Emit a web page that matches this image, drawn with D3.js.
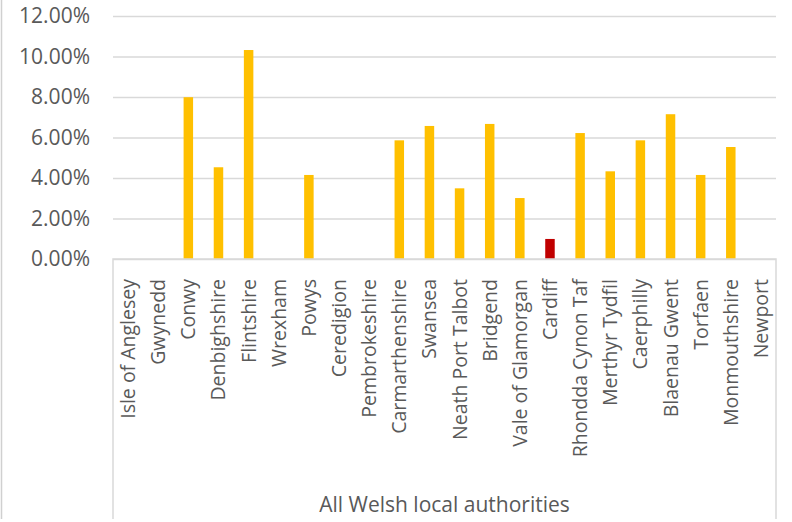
<!DOCTYPE html>
<html>
<head>
<meta charset="utf-8">
<script src="https://cdn.jsdelivr.net/npm/d3@7"></script>
<style>
  body { margin: 0; background: #fff; }
  svg { display: block; }
</style>
</head>
<body>
<div id="chart"></div>
<script>
var authorities = ["Isle of Anglesey", "Gwynedd", "Conwy", "Denbighshire", "Flintshire", "Wrexham",
    "Powys", "Ceredigion", "Pembrokeshire", "Carmarthenshire", "Swansea", "Neath Port Talbot",
    "Bridgend", "Vale of Glamorgan", "Cardiff", "Rhondda Cynon Taf", "Merthyr Tydfil",
    "Caerphilly", "Blaenau Gwent", "Torfaen", "Monmouthshire", "Newport"];
var shares = [0, 0, 0.0799, 0.0453, 0.1032, 0, 0.0415, 0, 0, 0.0586, 0.0657, 0.0349,
    0.0667, 0.0301, 0.0099, 0.0622, 0.0433, 0.0586, 0.0715, 0.0415, 0.0553, 0];
var highlighted = ["Cardiff"];
var yTicks = [0, 0.02, 0.04, 0.06, 0.08, 0.10, 0.12];
var axisTitle = "All Welsh local authorities";

var width = 792, height = 522;
var margin = {top: 16, right: 16, bottom: 263, left: 113};
var innerW = width - margin.left - margin.right;
var innerH = height - margin.top - margin.bottom;
var font = "'Open Sans', 'Noto Sans', sans-serif";
var textColor = "#595959";
var gridColor = "#d9d9d9";

var svg = d3.select("#chart")
    .append("svg")
        .attr("width", width)
        .attr("height", height);

// chart frame, only the left edge shows in the picture
svg.append("line")
    .attr("x1", 1.5).attr("x2", 1.5)
    .attr("y1", 0).attr("y2", 519)
    .style("stroke", "#d0d0d0")
    .style("stroke-width", 1.5);

var g = svg.append("g")
    .attr("transform", "translate(" + margin.left + "," + margin.top + ")");

var x = d3.scaleBand()
    .domain(authorities)
    .range([0, innerW])
    .paddingInner(0.685)
    .paddingOuter(0.3425);
var y = d3.scaleLinear()
    .domain([0, 0.12])
    .range([innerH, 0]);

// gridlines
g.append("g")
    .call(d3.axisLeft(y).tickValues(yTicks).tickSize(-innerW).tickFormat(""))
    .call(function(a) {
        a.select(".domain").remove();
        a.selectAll("line").style("stroke", gridColor).style("stroke-width", 1.5);
    });

// y tick labels
g.append("g")
    .call(d3.axisLeft(y).tickValues(yTicks).tickSize(0).tickPadding(23)
        .tickFormat(function(d) { return (d * 100).toFixed(2) + "%"; }))
    .call(function(a) {
        a.select(".domain").remove();
        a.selectAll("text")
            .attr("font-family", font)
            .attr("font-size", "21px")
            .attr("fill", textColor);
    });

// bars
g.selectAll("rect.bar")
    .data(authorities)
    .enter()
    .append("rect")
        .attr("class", "bar")
        .attr("x", function(d) { return x(d); })
        .attr("width", x.bandwidth())
        .attr("y", function(d, i) { return y(shares[i]); })
        .attr("height", function(d, i) { return innerH - y(shares[i]); })
        .style("fill", function(d) { return highlighted.indexOf(d) >= 0 ? "#c00000" : "#ffc000"; });

// category box
var boxBottom = 519 - margin.top;
g.append("path")
    .attr("d", "M0," + boxBottom + "V" + innerH + "H" + innerW + "V" + boxBottom)
    .style("fill", "none")
    .style("stroke", gridColor)
    .style("stroke-width", 1.5);

// category labels
g.selectAll("text.cat")
    .data(authorities)
    .enter()
    .append("text")
        .attr("class", "cat")
        .attr("transform", function(d) {
            return "translate(" + (x(d) + x.bandwidth() / 2 + 7) + "," + (innerH + 20) + ") rotate(-90)";
        })
        .style("text-anchor", "end")
        .attr("font-family", font)
        .attr("font-size", "19.5px")
        .attr("fill", textColor)
        .text(function(d) { return d; });

// axis title
g.append("text")
    .attr("x", innerW / 2)
    .attr("y", 512 - margin.top)
    .style("text-anchor", "middle")
    .attr("font-family", font)
    .attr("font-size", "21px")
    .attr("fill", textColor)
    .text(axisTitle);
</script>
</body>
</html>
